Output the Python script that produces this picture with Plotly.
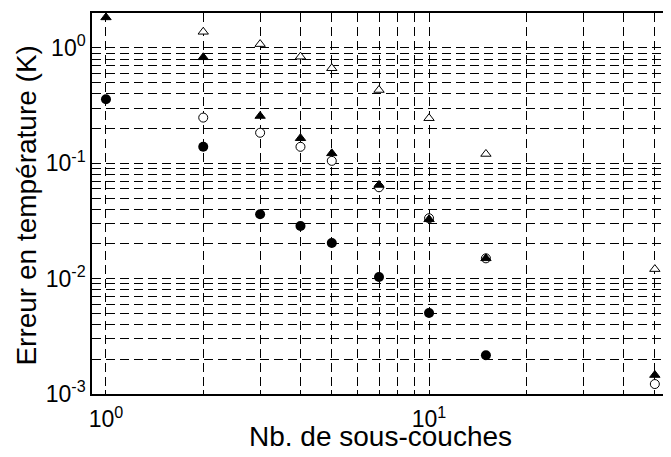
import plotly.graph_objects as go

# Data
x_all = [1, 2, 3, 4, 5, 7, 10, 15, 50]
filled_tri = [1.84, 0.83, 0.257, 0.165, 0.122, 0.0649, 0.0327, 0.0150, 0.00146]

x_open_tri = [2, 3, 4, 5, 7, 10, 15, 50]
open_tri = [1.38, 1.08, 0.84, 0.667, 0.432, 0.246, 0.1205, 0.0121]

x_filled_circ = [1, 2, 3, 4, 5, 7, 10, 15]
filled_circ = [0.359, 0.139, 0.0362, 0.0286, 0.0204, 0.01035, 0.00504, 0.00217]

x_open_circ = [2, 3, 4, 5, 7, 10, 15, 50]
open_circ = [0.249, 0.184, 0.139, 0.105, 0.062, 0.0334, 0.0150, 0.00122]

x_grid = [1, 2, 3, 4, 5, 6, 7, 8, 9, 10, 20, 30, 40, 50, 60]
x_labels = {1: "10<sup>0</sup>", 10: "10<sup>1</sup>"}
y_grid = [m * 10 ** e for e in (-3, -2, -1, 0) for m in range(1, 10)] + [10, 20]
y_labels = {1e-3: "10<sup>-3</sup>", 1e-2: "10<sup>-2</sup>", 1e-1: "10<sup>-1</sup>", 1: "10<sup>0</sup>"}

font_family = "Liberation Sans, Arial, sans-serif"

fig = go.Figure()
fig.add_trace(go.Scatter(x=x_open_circ, y=open_circ, mode="markers",
                         marker=dict(symbol="circle", size=9, color="white",
                                     line=dict(color="black", width=1)),
                         showlegend=False))
fig.add_trace(go.Scatter(x=x_filled_circ, y=filled_circ, mode="markers",
                         marker=dict(symbol="circle", size=10, color="black",
                                     line=dict(color="black", width=0)),
                         showlegend=False))
fig.add_trace(go.Scatter(x=x_open_tri, y=open_tri, mode="markers",
                         marker=dict(symbol="triangle-up", size=9, color="white",
                                     line=dict(color="black", width=1)),
                         showlegend=False))
fig.add_trace(go.Scatter(x=x_all, y=filled_tri, mode="markers",
                         marker=dict(symbol="triangle-up", size=9, color="black",
                                     line=dict(color="black", width=1)),
                         showlegend=False))

def lbl(v, d):
    for k, t in d.items():
        if abs(v - k) / k < 1e-6:
            return t
    return ""

grid_style = dict(showgrid=True, gridcolor="black", gridwidth=1, griddash="9px,5px")

fig.update_xaxes(type="log", range=[-0.0433, 1.749], automargin=False,
                 tickmode="array", tickvals=x_grid,
                 ticktext=[lbl(v, x_labels) for v in x_grid],
                 ticks="inside", ticklen=4, tickcolor="black",
                 ticklabelstandoff=4,
                 showline=True, linecolor="black", linewidth=1.5, mirror=True,
                 zeroline=False,
                 tickfont=dict(family=font_family, size=23, color="black"),
                 **grid_style)
fig.update_yaxes(type="log", range=[-3, 0.303], automargin=False,
                 tickmode="array", tickvals=y_grid,
                 ticktext=[lbl(v, y_labels) for v in y_grid],
                 ticks="inside", ticklen=4, tickcolor="black",
                 showline=True, linecolor="black", linewidth=1.5, mirror=False,
                 zeroline=False,
                 tickfont=dict(family=font_family, size=23, color="black"),
                 **grid_style)

# page has an 8px body margin: figure sized/offset so the plot area lands
# where the reference has it
fig.update_layout(
    width=663, height=441,
    margin=dict(l=84, r=0, t=5, b=55, autoexpand=False),
    plot_bgcolor="white", paper_bgcolor="white",
    font=dict(family=font_family, color="black"),
    annotations=[
        dict(text="Nb. de sous-couches", xref="paper", yref="paper",
             x=0.498, y=-0.111, xanchor="center", yanchor="middle",
             showarrow=False, font=dict(size=28, family=font_family, color="black")),
        dict(text="Erreur en température (K)", xref="paper", yref="paper",
             x=-0.1123, y=0.497, xanchor="center", yanchor="middle", textangle=-90,
             showarrow=False, font=dict(size=28, family=font_family, color="black")),
    ],
)

fig.write_html("out.html")
